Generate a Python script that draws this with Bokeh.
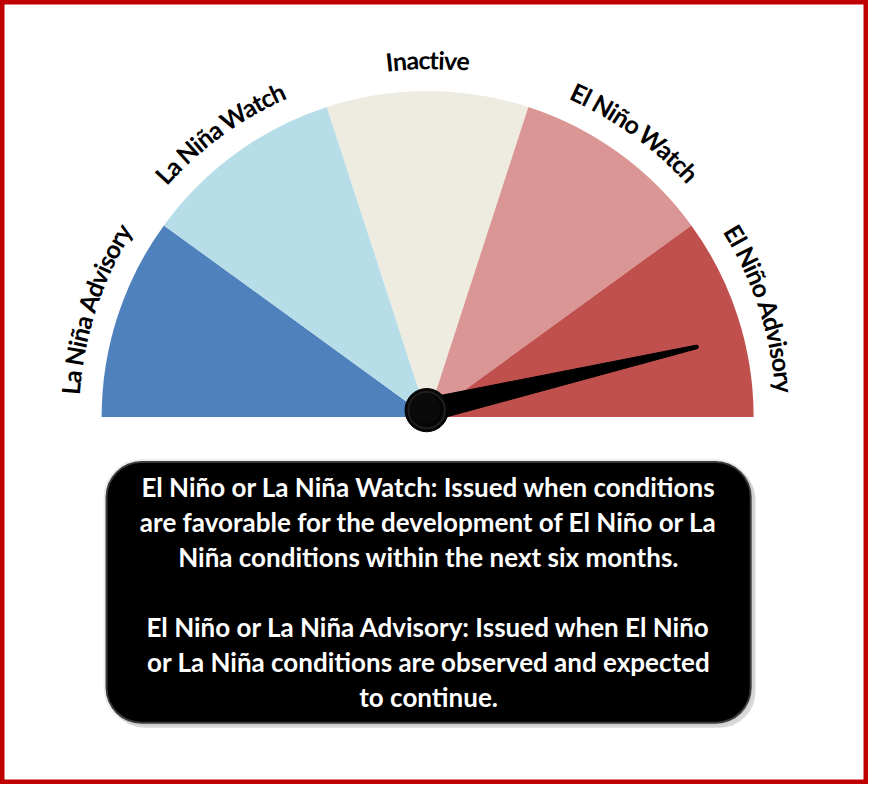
import math
from bokeh.plotting import figure
from bokeh.models import Range1d, BoxAnnotation
from bokeh.core.properties import value
from bokeh.embed import file_html
from bokeh.resources import INLINE

# ---- data ----
categories = ["La Niña Advisory", "La Niña Watch", "Inactive", "El Niño Watch", "El Niño Advisory"]
colors = ["#4F81BD", "#B7DEE8", "#EEECE1", "#DA9694", "#C0504D"]
needle_angle_deg = 13.2   # needle position on the 0..180 degree dial
box_lines = [
    "El Niño or La Niña Watch: Issued when conditions",
    "are favorable for the development of El Niño or La",
    "Niña conditions within the next six months.",
    "",
    "El Niño or La Niña Advisory: Issued when El Niño",
    "or La Niña conditions are observed and expected",
    "to continue.",
]

# ---- layout (reference pixel coords, y up = 800 - y_ref) ----
W, H = 868, 784
cx, cy = 435, 800 - 425
R = 332
FONT = "Lato"

p = figure(width=W, height=H, x_range=Range1d(0, 884), y_range=Range1d(0, 800),
           output_backend="svg", toolbar_location=None, min_border=0)
p.axis.visible = False
p.grid.visible = False
p.outline_line_color = "#C00000"
p.outline_line_width = 8
p.background_fill_color = "white"
p.border_fill_color = "white"

n = len(categories)
span = 180.0 / n
starts = [180 - (i + 1) * span for i in range(n)]
ends = [180 - i * span for i in range(n)]
p.wedge(x=[cx] * n, y=[cy] * n, radius=R, start_angle=starts, end_angle=ends,
        start_angle_units="deg", end_angle_units="deg",
        fill_color=colors, line_color=None)

# ---- curved labels, one character at a time ----
cw = {" ": 0.22, "L": 0.47, "a": 0.50, "N": 0.74, "i": 0.25, "ñ": 0.56, "A": 0.67,
      "d": 0.56, "v": 0.50, "s": 0.41, "o": 0.56, "r": 0.37, "y": 0.50, "W": 0.95,
      "t": 0.35, "c": 0.45, "h": 0.56, "I": 0.29, "n": 0.56, "e": 0.52, "E": 0.54,
      "l": 0.25}
fs = 25
r_text = 365
xs, ys, chars, rots = [], [], [], []
for i, lab in enumerate(categories):
    mid = math.radians((starts[i] + ends[i]) / 2)
    widths = [cw.get(ch, 0.5) * fs for ch in lab]
    total = sum(widths) / r_text
    th = mid + total / 2
    for ch, w in zip(lab, widths):
        a = th - (w / 2) / r_text
        xs.append(cx + r_text * math.cos(a))
        ys.append(cy + r_text * math.sin(a))
        chars.append(ch)
        rots.append(a - math.pi / 2)
        th -= w / r_text
p.text(x=xs, y=ys, text=chars, angle=rots, text_font=value(FONT), text_font_style="bold",
       text_font_size=f"{fs}px", text_align="center", text_baseline="middle",
       text_color="black")

# ---- text box (underlay so the text glyphs draw on top) ----
shadow = BoxAnnotation(left=110, right=769, top=800 - 473, bottom=800 - 742,
                       fill_color="#d9d9d9", fill_alpha=1.0, line_color=None,
                       border_radius=36, level="underlay")
p.add_layout(shadow)
box = BoxAnnotation(left=107, right=765, top=800 - 470, bottom=800 - 738,
                    fill_color="black", fill_alpha=1.0, line_color="#BFBFBF",
                    line_width=4, border_radius=36, level="underlay")
p.add_layout(box)

line_y0 = 496
step = 35.8
ty = [800 - (line_y0 + i * step) for i in range(len(box_lines))]
p.text(x=[436] * len(box_lines), y=ty, text=box_lines, text_font=value(FONT),
       text_font_style="bold", text_font_size="26px", text_align="center",
       text_baseline="middle", text_color="white")

# ---- needle ----
kx, ky = 434, 800 - 418
L = 283
a = math.radians(needle_angle_deg)
ux, uy = math.cos(a), math.sin(a)
nx, ny = -uy, ux
hb, ht = 12, 1.8
px = [kx + nx * hb, kx + ux * L + nx * ht, kx + ux * L - nx * ht, kx - nx * hb]
py = [ky + ny * hb, ky + uy * L + ny * ht, ky + uy * L - ny * ht, ky - ny * hb]
p.patch(px, py, fill_color="black", line_color="black", line_width=1)
p.circle(x=[kx + ux * L], y=[ky + uy * L], radius=1.8, fill_color="black", line_color=None)
p.circle(x=[kx], y=[ky], radius=22, fill_color="#050505", line_color="#000000", line_width=1)
p.circle(x=[kx], y=[ky], radius=18.5, fill_color=None, line_color="#1f1f1f", line_width=2)
p.circle(x=[kx - 1.5], y=[ky + 1.5], radius=15.5, fill_color="#0a0a0a", line_color=None)

open("out.html", "w").write(file_html(p, INLINE))
